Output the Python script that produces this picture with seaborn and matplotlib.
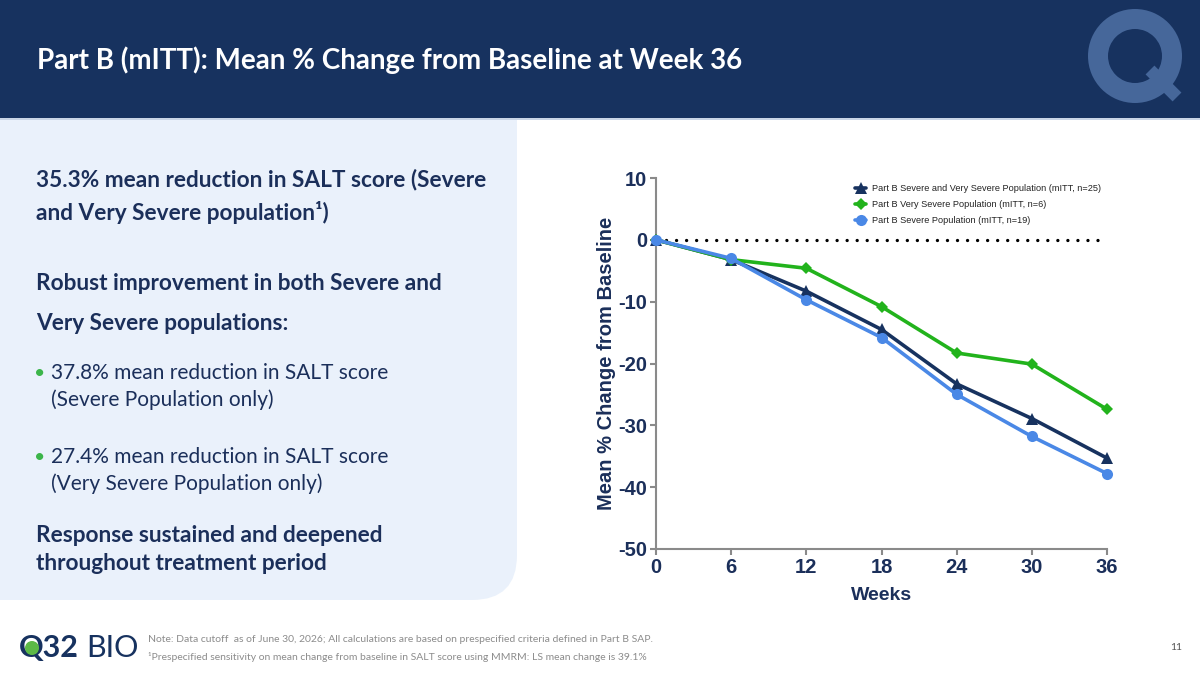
import numpy as np
import pandas as pd
import matplotlib
matplotlib.use("Agg")
import matplotlib.pyplot as plt
from matplotlib.patches import FancyBboxPatch, Rectangle, Wedge, Circle
import seaborn as sns

# data
weeks = [0, 6, 12, 18, 24, 30, 36]
combined = [0, -3.2, -8.3, -14.5, -23.3, -28.9, -35.3]
very_severe = [0, -3.2, -4.6, -10.8, -18.3, -20.1, -27.4]
severe = [0, -3.0, -9.7, -15.8, -25.0, -31.8, -37.8]
series_names = ["Part B Severe and Very Severe Population (mITT, n=25)",
                "Part B Very Severe Population (mITT, n=6)",
                "Part B Severe Population (mITT, n=19)"]
y_ticks = [10, 0, -10, -20, -30, -40, -50]

NAVY = "#17325f"
TXT = "#1b2f5a"
GREEN = "#22b31c"
BLUE = "#4a88e6"

df = pd.DataFrame({
    "week": weeks * 3,
    "change": combined + very_severe + severe,
    "group": [series_names[0]] * 7 + [series_names[1]] * 7 + [series_names[2]] * 7,
})

sns.set_style("white")
plt.rcParams["font.family"] = ["Lato", "DejaVu Sans"]
plt.rcParams["axes.unicode_minus"] = False

W, H = 1200, 675
fig = plt.figure(figsize=(12, 6.75), dpi=100)

# background layer in pixel coordinates
bg = fig.add_axes([0, 0, 1, 1])
bg.set_xlim(0, W)
bg.set_ylim(H, 0)
bg.axis("off")

# light panel on the left (only bottom-right corner visible as rounded)
bg.add_patch(FancyBboxPatch((-60, 60), 577, 540, boxstyle="round,pad=0,rounding_size=45",
                            fc="#eaf1fb", ec="none", zorder=1))
# header band
bg.add_patch(Rectangle((0, 0), W, 118, fc=NAVY, ec="none", zorder=2))
bg.add_patch(Rectangle((0, 118), W, 2, fc="#c9d5e6", ec="none", zorder=2))
# Q watermark
bg.add_patch(Wedge((1135, 56), 47, 0, 360, width=20, fc="#46679a", ec="none", zorder=3))
bg.plot([1150, 1177], [70, 97], color="#46679a", lw=9, solid_capstyle="butt", zorder=3)

bg.text(37, 60, "Part B (mITT): Mean % Change from Baseline at Week 36", color="white",
        fontsize=20, fontweight="bold", va="center", ha="left", zorder=4)

# left panel text
head_kw = dict(color=TXT, fontsize=16.3, fontweight="bold", va="center", ha="left", zorder=4)
body_kw = dict(color=TXT, fontsize=15, va="center", ha="left", zorder=4)
bg.text(36, 180, "35.3% mean reduction in SALT score (Severe", **head_kw)
bg.text(36, 212, "and Very Severe population\u00b9)", **head_kw)
bg.text(36, 284, "Robust improvement in both Severe and", **head_kw)
bg.text(36, 323, "Very Severe populations:", **head_kw)
for y0, l1, l2 in [(373, "37.8% mean reduction in SALT score", "(Severe Population only)"),
                   (457, "27.4% mean reduction in SALT score", "(Very Severe Population only)")]:
    bg.text(34, y0, "\u2022", color="#3cb54a", fontsize=14, va="center", ha="left", zorder=4)
    bg.text(51, y0, l1, **body_kw)
    bg.text(51, y0 + 27, l2, **body_kw)
bg.text(36, 535, "Response sustained and deepened", **head_kw)
bg.text(36, 564, "throughout treatment period", **head_kw)

# footer
bg.text(19, 648, "Q32", color=NAVY, fontsize=22, fontweight="bold", va="center", ha="left", zorder=4)
bg.add_patch(Circle((32, 648), 7, fc="#5cb946", ec="none", zorder=5))
bg.text(86, 648, "BIO", color=NAVY, fontsize=22, fontweight="normal", va="center", ha="left", zorder=4)
foot_kw = dict(color="#8c8c8c", fontsize=7.5, va="center", ha="left", zorder=4)
bg.text(148, 640, "Note: Data cutoff  as of June 30, 2026; All calculations are based on prespecified criteria defined in Part B SAP.", **foot_kw)
bg.text(148, 657, "\u00b9Prespecified sensitivity on mean change from baseline in SALT score using MMRM: LS mean change is 39.1%", **foot_kw)
bg.text(1176, 648, "11", color="#555555", fontsize=7.5, va="center", ha="center", zorder=4)

# chart
x0, x1 = 656, 1107
y_top, y_bot = 178, 549
ax = fig.add_axes([x0 / W, (H - y_bot) / H, (x1 - x0) / W, (y_bot - y_top) / H])
ax.set_facecolor("none")

ax.plot([0, 35.6], [0, 0], color="black", lw=2.4, ls=(0, (0.01, 3.0)), dash_capstyle="round", zorder=1)

sns.lineplot(data=df, x="week", y="change", hue="group", style="group",
             hue_order=series_names, style_order=series_names,
             palette=[NAVY, GREEN, BLUE], markers=["^", "D", "o"], dashes=False,
             linewidth=2.6, markersize=8, markeredgewidth=0, ax=ax, zorder=3)
for ln in ax.lines:
    ln.set_clip_on(False)
    if ln.get_marker() == "D":
        ln.set_markersize(6)

ax.set_xlim(0, 36)
ax.set_ylim(-50, 10)
ax.set_xticks(weeks)
ax.set_yticks(y_ticks)
sns.despine(ax=ax)
for s in ["left", "bottom"]:
    ax.spines[s].set_color("#8a8a8a")
    ax.spines[s].set_linewidth(1.5)
ax.tick_params(axis="both", which="both", direction="out", length=4.5, width=1.5, color="#8a8a8a",
               labelsize=14.5, labelcolor=TXT, pad=2, left=True, bottom=True)
for lab in ax.get_xticklabels() + ax.get_yticklabels():
    lab.set_fontfamily("Liberation Sans")
    lab.set_fontweight("bold")

ax.set_xlabel("Weeks", fontsize=14, fontweight="bold", color=TXT, family="Liberation Sans", labelpad=7)
ax.set_ylabel("Mean % Change from Baseline", fontsize=14.5, fontweight="bold", color=TXT,
              family="Liberation Sans")
ax.yaxis.set_label_coords(-0.088, 0.5)

leg = ax.legend(loc="upper right", bbox_to_anchor=(1.0, 1.0), frameon=False,
                prop={"family": "Liberation Sans", "size": 6.6}, handlelength=1.2,
                handletextpad=0.6, labelspacing=0.75, borderaxespad=0.3, markerscale=1.0)
for t in leg.get_texts():
    t.set_color("#222222")

fig.savefig("out.png", dpi=100)
